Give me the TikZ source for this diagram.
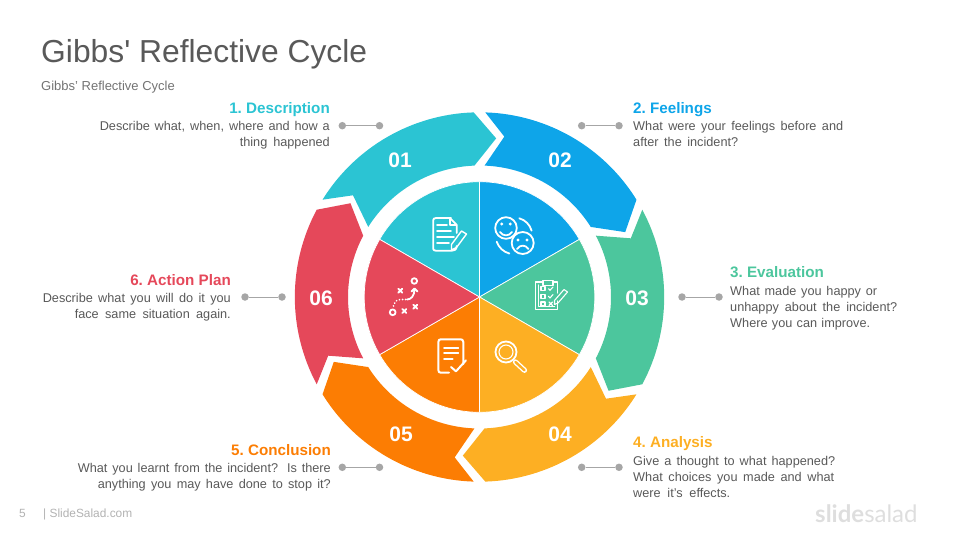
\documentclass[tikz,border=0pt]{standalone}
\usepackage{fontspec}
\usetikzlibrary{positioning}
\newfontfamily\robo{Liberation Sans}
\newfontfamily\logofam{Lato}
\definecolor{cteal}{HTML}{2BC4D3}
\definecolor{cblue}{HTML}{0EA5E9}
\definecolor{cgreen}{HTML}{4CC69D}
\definecolor{cyellow}{HTML}{FDAF23}
\definecolor{corange}{HTML}{FC7D03}
\definecolor{cred}{HTML}{E5485A}
\definecolor{ctext}{HTML}{595959}
\definecolor{cdot}{HTML}{A6A6A6}
\newcommand{\fitline}[2]{\makebox[#1pt][s]{\strut #2}}
\newcommand{\ringseg}[2]{\fill[#2,rotate=#1] (148.2:184.7) arc[start angle=148.2,end angle=91.8,radius=184.7]
  -- (84:159.5) -- (92.2:131.5) arc[start angle=92.2,end angle=147.8,radius=131.5] -- (141.2:162.3) -- cycle;}
\newcommand{\pieseg}[2]{\filldraw[#2,draw=white,line width=0.7,rotate=#1] (0,0) -- (150:115.3) arc[start angle=150,end angle=90,radius=115.3] -- cycle;}
\tikzset{
  dot/.style={circle,fill=cdot,minimum size=7.5pt,inner sep=0pt},
  num/.style={font=\robo\bfseries\fontsize{21}{21}\selectfont,text=white},
  head/.style={font=\robo\bfseries\frenchspacing\fontsize{15.2}{16}\selectfont,inner sep=0pt},
  bodyl/.style={font=\robo\fontsize{12.7}{16}\selectfont,text=ctext,align=left,anchor=north west,inner sep=0pt},
  bodyr/.style={font=\robo\fontsize{12.7}{16}\selectfont,text=ctext,align=right,anchor=north east,inner sep=0pt},
  icon/.style={draw=white,line width=1.8pt,line cap=round,line join=round},
  thinicon/.style={draw=white,line width=1.1pt,line cap=round,line join=round}
}
\begin{document}
\begin{tikzpicture}[x=1pt,y=1pt]
\useasboundingbox (0,0) rectangle (960,-540);

\node (title) [anchor=base west,inner sep=0pt,font=\robo\fontsize{31.8}{32}\selectfont,text=ctext] at (41,-63) {Gibbs' Reflective Cycle};
\node (subtitle) [anchor=base west,inner sep=0pt,font=\robo\fontsize{13}{14}\selectfont,text=black!55] at (41,-91) {Gibbs’ Reflective Cycle};

\begin{scope}[shift={(479.5,-297)}]
\ringseg{0}{cteal}
\ringseg{-60}{cblue}
\ringseg{-120}{cgreen}
\ringseg{-180}{cyellow}
\ringseg{-240}{corange}
\ringseg{-300}{cred}
\pieseg{0}{cteal}
\pieseg{-60}{cblue}
\pieseg{-120}{cgreen}
\pieseg{-180}{cyellow}
\pieseg{-240}{corange}
\pieseg{-300}{cred}
\end{scope}

\node (n01) [num] at (400,-160.5) {01};
\node (n02) [num] at (560,-160.5) {02};
\node (n03) [num] at (637,-298) {03};
\node (n04) [num] at (560,-434.5) {04};
\node (n05) [num] at (401,-434.5) {05};
\node (n06) [num] at (321,-298) {06};

\node (d1a) [dot] at (342.3,-125.7) {};
\node (d1b) [dot] at (379.5,-125.7) {};
\node (d2a) [dot] at (581.7,-125.7) {};
\node (d2b) [dot] at (619,-125.7) {};
\node (d3a) [dot] at (682,-297) {};
\node (d3b) [dot] at (719,-297) {};
\node (d4a) [dot] at (581.7,-467.3) {};
\node (d4b) [dot] at (619,-467.3) {};
\node (d5a) [dot] at (342.3,-467.3) {};
\node (d5b) [dot] at (379.5,-467.3) {};
\node (d6a) [dot] at (245,-297) {};
\node (d6b) [dot] at (282,-297) {};

\path[draw=cdot,line width=0.8pt]
  (d1a) edge (d1b)
  (d2a) edge (d2b)
  (d3a) edge (d3b)
  (d4a) edge (d4b)
  (d5a) edge (d5b)
  (d6a) edge (d6b)
;

\node (h1) [head,anchor=base east,text=cteal] at (330,-113.5) {1. Description};
\node (t1) [bodyr] at (330,-119) {\fitline{230}{Describe what, when, where and how a}\\\fitline{90}{thing happened}};
\node (h2) [head,anchor=base west,text=cblue] at (633,-113.5) {2. Feelings};
\node (t2) [bodyl] at (633,-119) {\fitline{210}{What were your feelings before and}\\\fitline{105}{after the incident?}};
\node (h3) [head,anchor=base west,text=cgreen] at (730,-277.5) {3. Evaluation};
\node (t3) [bodyl] at (730,-284) {\fitline{147}{What made you happy or}\\\fitline{167}{unhappy about the incident?}\\\fitline{140}{Where you can improve.}};
\node (h4) [head,anchor=base west,text=cyellow] at (633,-447.5) {4. Analysis};
\node (t4) [bodyl] at (633,-454) {\fitline{202}{Give a thought to what happened?}\\\fitline{201}{What choices you made and what}\\\fitline{97}{were it’s effects.}};
\node (h5) [head,anchor=base east,text=corange] at (331,-455.5) {5. Conclusion};
\node (t5) [bodyr] at (331,-461) {\fitline{253}{What you learnt from the incident? Is there}\\\fitline{233}{anything you may have done to stop it?}};
\node (h6) [head,anchor=base east,text=cred] at (231,-285.5) {6. Action Plan};
\node (t6) [bodyr] at (231,-291) {\fitline{188}{Describe what you will do it you}\\\fitline{156}{face same situation again.}};

\node (pagenum) [anchor=base west,inner sep=0pt,font=\robo\fontsize{11.9}{12}\selectfont,text=black!30] at (19,-517) {5};
\node (site) [anchor=base west,inner sep=0pt,font=\robo\fontsize{11.9}{12}\selectfont,text=black!30] at (43,-517) {| SlideSalad.com};
\node (logo) [anchor=base west,inner sep=0pt,font=\logofam\fontsize{24}{24}\selectfont,text=black!13] at (815,-522.5) {{\bfseries slide}salad};

% document
\draw[icon] (451,-218) -- (436,-218) .. controls (434,-218) and (433.3,-219) .. (433.3,-220) -- (433.3,-249) .. controls (433.3,-250) and (434,-250.7) .. (436,-250.7) -- (452,-250.7) .. controls (454,-250.7) and (456.7,-250) .. (456.7,-246);
\draw[icon] (450,-218) -- (456.7,-225) -- (456.7,-233);
\draw[thinicon] (450,-218.5) -- (450,-225) -- (456.7,-225);
\draw[icon] (437,-225) -- (447,-225) (437,-231) -- (451,-231) (437,-237) -- (454,-237) (437,-243) -- (449,-243);
\draw[thinicon,line width=1.4pt] (461.5,-231) -- (466.5,-234) -- (456.5,-247.5) -- (451.5,-250) -- (451.5,-244.5) -- cycle;

% faces
\draw[icon] (506,-228) circle (10.8);
\draw[icon] (522.7,-243) circle (11);
\fill[white] (501.7,-224) circle (1.6) (510.3,-224) circle (1.6) (518,-240) circle (1.6) (527,-240) circle (1.6);
\draw[icon] (500,-232) .. controls (503,-236.5) and (509,-236.5) .. (512,-232);
\draw[icon] (517,-249) .. controls (520,-244.5) and (525.5,-244.5) .. (528.5,-249);
\draw[icon] (519.3,-218.3) arc[start angle=74,end angle=15.6,radius=17.9];
\draw[icon] (496.7,-241.7) arc[start angle=199,end angle=255,radius=18.5];

% clipboard
\draw[thinicon] (543,-282) -- (535.3,-282) -- (535.3,-309.3) -- (557.3,-309.3) -- (557.3,-301);
\draw[thinicon] (553,-282) -- (557.3,-282) -- (557.3,-293);
\draw[thinicon] (543,-280.3) rectangle (553,-285.3);
\draw[thinicon] (538.3,-285) -- (538.3,-306.5) -- (554.5,-306.5);
\draw[thinicon] (541,-286.7) rectangle (545,-290.7) (541,-294.3) rectangle (545,-298.3) (541,-302) rectangle (545,-306);
\draw[thinicon] (548.5,-288.7) -- (550,-290.3) -- (553,-287) (548.5,-296.3) -- (550,-298) -- (553,-294.5) (549,-302) -- (552.5,-305.5) (552.5,-302) -- (549,-305.5);
\draw[thinicon] (564,-289.5) -- (567.5,-292) -- (558,-303) -- (554.5,-304.5) -- (554.5,-300.5) -- cycle;

% magnifier
\draw[icon] (506,-352) circle (10.5);
\draw[thinicon] (506,-352) circle (7);
\draw[white,line width=5.2pt,line cap=round] (515.5,-362) -- (524.5,-370.3);
\draw[cyellow,line width=2.4pt,line cap=round] (515.5,-362) -- (524.5,-370.3);

% note
\draw[icon,line width=2pt] (463.3,-364) -- (463.3,-342) .. controls (463.3,-340) and (462,-339.3) .. (460.5,-339.3) -- (441,-339.3) .. controls (439.5,-339.3) and (438.3,-340) .. (438.3,-342) -- (438.3,-370) .. controls (438.3,-372) and (439.5,-372.7) .. (441,-372.7) -- (449,-372.7);
\draw[icon,line width=1.8pt] (444,-347.7) -- (458.3,-347.7) (444,-353) -- (458.3,-353) (444,-358.7) -- (452.7,-358.7);
\draw[icon,line width=2pt] (451,-367) -- (456,-371.3) -- (466,-360.3);

% plan
\draw[icon] (414.3,-281) circle (2.8);
\draw[icon] (392.7,-312.3) circle (2.9);
\draw[icon] (398.3,-288.7) -- (402.3,-292.7) (402.3,-288.7) -- (398.3,-292.7);
\draw[icon] (413.3,-304.7) -- (417.3,-308.7) (417.3,-304.7) -- (413.3,-308.7);
\draw[icon] (402.3,-309) -- (406.3,-313) (406.3,-309) -- (402.3,-313);
\draw[icon,dash pattern=on 0.1pt off 3pt] (393.5,-306) .. controls (395,-301) and (397,-299.5) .. (400,-299.5) -- (407,-299.5);
\draw[icon] (407,-299.5) .. controls (411,-299.5) and (414.5,-296) .. (414.5,-289);
\draw[icon] (411.5,-291.5) -- (414.5,-288.5) -- (417.5,-291.5);
\end{tikzpicture}
\end{document}
